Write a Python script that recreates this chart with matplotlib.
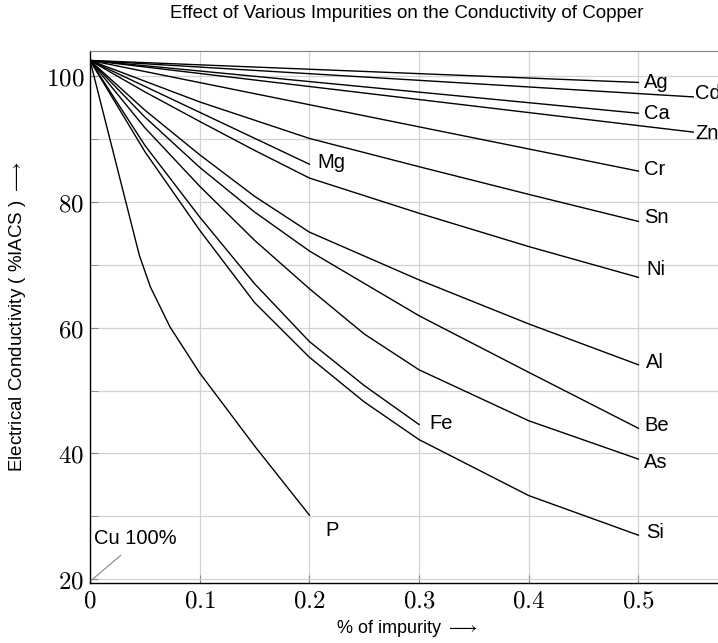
import matplotlib
matplotlib.use("Agg")
import matplotlib.pyplot as plt
from matplotlib.ticker import FixedLocator, FuncFormatter

plt.rcParams['font.family'] = ['Liberation Sans', 'DejaVu Sans']
plt.rcParams['mathtext.fontset'] = 'cm'

# conductivity (%IACS) against impurity content (%) for each element
x_ag = [0, 0.5]
y_ag = [102.5, 99.0]
x_cd = [0, 0.55]
y_cd = [102.5, 96.7]
x_ca = [0, 0.5]
y_ca = [102.5, 94.1]
x_zn = [0, 0.55]
y_zn = [102.5, 91.1]
x_cr = [0, 0.5]
y_cr = [102.5, 84.9]
x_sn = [0, 0.1, 0.2, 0.3, 0.4, 0.5]
y_sn = [102.5, 95.9, 90.1, 85.6, 81.2, 76.9]
x_mg = [0, 0.2]
y_mg = [102.5, 86.0]
x_ni = [0, 0.05, 0.1, 0.15, 0.2, 0.3, 0.4, 0.5]
y_ni = [102.5, 97.5, 92.8, 88.2, 83.8, 78.2, 72.9, 68.0]
x_al = [0, 0.05, 0.1, 0.15, 0.2, 0.3, 0.4, 0.5]
y_al = [102.5, 94.6, 87.5, 80.9, 75.2, 67.6, 60.6, 54.1]
x_be = [0, 0.05, 0.1, 0.15, 0.2, 0.3, 0.4, 0.5]
y_be = [102.5, 93.5, 85.5, 78.4, 72.2, 61.9, 52.9, 44.0]
x_as = [0, 0.05, 0.1, 0.15, 0.2, 0.25, 0.3, 0.4, 0.5]
y_as = [102.5, 91.8, 82.5, 73.9, 66.2, 59.0, 53.3, 45.2, 39.1]
x_fe = [0, 0.05, 0.1, 0.15, 0.2, 0.25, 0.3]
y_fe = [102.5, 89.0, 77.6, 67.0, 57.8, 50.8, 44.6]
x_si = [0, 0.05, 0.1, 0.15, 0.2, 0.25, 0.3, 0.4, 0.5]
y_si = [102.5, 88.0, 75.5, 64.0, 55.3, 48.2, 42.2, 33.3, 27.0]
x_p = [0, 0.045, 0.055, 0.073, 0.1, 0.15, 0.2]
y_p = [102.5, 71.5, 66.5, 60.1, 52.8, 41.2, 30.2]

series = [
    ("Ag", x_ag, y_ag), ("Cd", x_cd, y_cd), ("Ca", x_ca, y_ca),
    ("Zn", x_zn, y_zn), ("Cr", x_cr, y_cr), ("Sn", x_sn, y_sn),
    ("Mg", x_mg, y_mg), ("Ni", x_ni, y_ni), ("Al", x_al, y_al),
    ("Be", x_be, y_be), ("As", x_as, y_as), ("Fe", x_fe, y_fe),
    ("Si", x_si, y_si), ("P", x_p, y_p),
]

# label offsets from the end of each curve (data units)
label_shift = {
    "Ag": (0.005, 0.0), "Cd": (0.002, 0.5), "Ca": (0.005, 0.0),
    "Zn": (0.002, -0.2), "Cr": (0.005, 0.3), "Sn": (0.005, 0.6),
    "Mg": (0.007, 0.3), "Ni": (0.007, 1.2), "Al": (0.007, 0.4),
    "Be": (0.005, 0.5), "As": (0.005, -0.5), "Fe": (0.009, 0.2),
    "Si": (0.007, 0.5), "P": (0.015, -2.4),
}

x_ticks = [0, 0.1, 0.2, 0.3, 0.4, 0.5]
y_ticks = [20, 40, 60, 80, 100]
y_minor = [30, 50, 70, 90]

fig = plt.figure(figsize=(7.18, 6.43), dpi=100)
ax = fig.add_axes([90 / 718, 60 / 643, 634 / 718, 532 / 643])

for name, xs, ys in series:
    ax.plot(xs, ys, color='black', lw=1.0, solid_joinstyle='round', zorder=3)
    dx, dy = label_shift[name]
    ax.text(xs[-1] + dx, ys[-1] + dy, name, fontsize=14.5, ha='left',
            va='center', zorder=4)

# base copper marker
ax.plot([0.001, 0.028], [19.8, 23.8], color='#888888', lw=0.8, zorder=3)
ax.text(0.004, 26.4, "Cu 100%", fontsize=14.5, ha='left', va='center')

ax.set_xlim(0, 0.578)
ax.set_ylim(19.4, 104)
ax.xaxis.set_major_locator(FixedLocator(x_ticks))
ax.yaxis.set_major_locator(FixedLocator(y_ticks))
ax.yaxis.set_minor_locator(FixedLocator(y_minor))
ax.xaxis.set_major_formatter(FuncFormatter(lambda v, p: f"${v:g}$"))
ax.yaxis.set_major_formatter(FuncFormatter(lambda v, p: f"${v:g}$"))

ax.grid(True, which='both', color='#d2d2d2', lw=0.9, zorder=0)
ax.tick_params(which='both', direction='in', color='#888888', length=6,
               labelsize=18, pad=4)
ax.tick_params(axis='y', pad=4)

for side in ('left', 'bottom'):
    ax.spines[side].set_color('black')
    ax.spines[side].set_linewidth(1.0)
ax.spines['top'].set_color('#808080')
ax.spines['right'].set_visible(False)

ax.set_xlabel(r"% of impurity $\longrightarrow$", fontsize=13, labelpad=4)
ax.set_ylabel(r"Electrical Conductivity ( %IACS ) $\longrightarrow$",
              fontsize=13.5, labelpad=13)
fig.text(407 / 718, 1 - 14 / 643,
         "Effect of Various Impurities on the Conductivity of Copper",
         fontsize=13.5, ha='center', va='center')

fig.savefig("out.png", dpi=100)
